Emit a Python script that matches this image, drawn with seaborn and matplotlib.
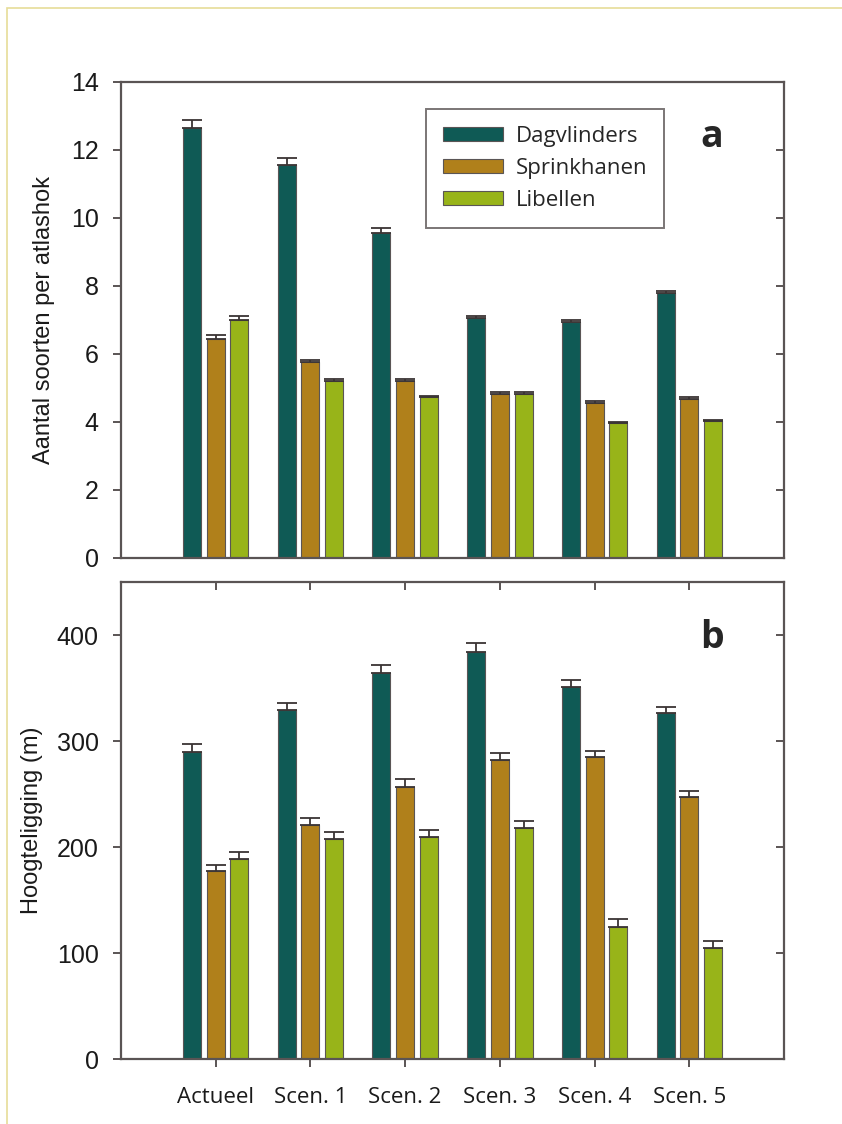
import numpy as np
import pandas as pd
import seaborn as sns
import matplotlib.pyplot as plt
from matplotlib.patches import Rectangle

# data
scenarios = ['Actueel', 'Scen. 1', 'Scen. 2', 'Scen. 3', 'Scen. 4', 'Scen. 5']
groups = ['Dagvlinders', 'Sprinkhanen', 'Libellen']

soorten_dag = [12.65, 11.55, 9.55, 7.05, 6.95, 7.80]
soorten_spr = [6.45, 5.75, 5.20, 4.83, 4.57, 4.68]
soorten_lib = [7.00, 5.20, 4.72, 4.83, 3.98, 4.03]
soorten_err_dag = [0.22, 0.20, 0.16, 0.08, 0.05, 0.05]
soorten_err_spr = [0.10, 0.08, 0.07, 0.04, 0.04, 0.04]
soorten_err_lib = [0.12, 0.06, 0.04, 0.04, 0.03, 0.03]

hoogte_dag = [290, 329, 364, 384, 351, 326]
hoogte_spr = [177, 221, 257, 282, 285, 247]
hoogte_lib = [189, 208, 209, 218, 125, 105]
hoogte_err_dag = [7, 7, 8, 8, 7, 6]
hoogte_err_spr = [6, 6, 7, 7, 6, 6]
hoogte_err_lib = [6, 6, 7, 7, 7, 6]

colors = ['#0f5a55', '#b0801b', '#98b419']

sns.set_theme(style='white')
plt.rcParams['font.family'] = ['Liberation Sans', 'DejaVu Sans']
label_font = 'Open Sans'
edge = '#5a5555'
spine_col = '#5a5454'


def make_df(dag, spr, lib, e_dag, e_spr, e_lib):
    rows = []
    for vals, errs, g in zip([dag, spr, lib], [e_dag, e_spr, e_lib], groups):
        for s, v, e in zip(scenarios, vals, errs):
            rows.append({'scen': s, 'groep': g, 'waarde': v, 'err': e})
    return pd.DataFrame(rows)


def bar_panel(ax, df, ymax, yticks, ylabel, letter, lx, ly):
    sns.barplot(data=df, x='scen', y='waarde', hue='groep', hue_order=groups,
                order=scenarios, palette=colors, saturation=1, width=0.75, gap=0.24,
                errorbar=None, edgecolor=edge, linewidth=0.8, ax=ax,
                legend=(letter == 'a'))
    # upper error bars on each bar
    for patch, (_, row) in zip(ax.patches, df.iterrows()):
        xc = patch.get_x() + patch.get_width() / 2
        ax.errorbar(xc, row['waarde'], yerr=[[0], [row['err']]], fmt='none',
                    ecolor='#3a3434', elinewidth=1.3, capsize=7.5, capthick=1.3)
    ax.set_xlim(-1, 6)
    ax.set_ylim(0, ymax)
    ax.set_yticks(yticks)
    ax.set_yticklabels([str(t) for t in yticks], fontsize=18, color='#1a1a1a')
    ax.set_xlabel('')
    ax.set_ylabel(ylabel, fontsize=17, color='#1a1a1a')
    for sp in ax.spines.values():
        sp.set_visible(True)
        sp.set_color(spine_col)
        sp.set_linewidth(1.6)
    ax.tick_params(axis='y', which='both', left=True, right=True, direction='out',
                   length=6, width=1.4, color=spine_col, pad=10)
    ax.text(lx, ly, letter, transform=ax.transAxes, fontsize=27,
            fontweight='bold', family=label_font, ha='center', va='center')


fig = plt.figure(figsize=(8.42, 11.24), dpi=100)
ax_a = fig.add_axes([0.1437, 0.5036, 0.7874, 0.4235])
ax_b = fig.add_axes([0.1437, 0.0578, 0.7874, 0.4244])

df_a = make_df(soorten_dag, soorten_spr, soorten_lib,
               soorten_err_dag, soorten_err_spr, soorten_err_lib)
df_b = make_df(hoogte_dag, hoogte_spr, hoogte_lib,
               hoogte_err_dag, hoogte_err_spr, hoogte_err_lib)

bar_panel(ax_a, df_a, 14, [0, 2, 4, 6, 8, 10, 12, 14],
          'Aantal soorten per atlashok', 'a', 0.891, 0.885)
bar_panel(ax_b, df_b, 450, [0, 100, 200, 300, 400],
          'Hoogteligging (m)', 'b', 0.892, 0.882)

# right ticks point inward
for ax in (ax_a, ax_b):
    for t in ax.yaxis.get_major_ticks():
        t.tick2line.set_marker(0)
        t.tick2line.set_markersize(6)

ax_a.tick_params(axis='x', bottom=True, direction='in', length=6, labelbottom=False,
                 color=spine_col)
ax_b.tick_params(axis='x', bottom=True, top=True, direction='out', length=6, width=1.4,
                 color=spine_col, pad=14)
for t in ax_b.xaxis.get_major_ticks():
    t.tick2line.set_marker(3)
ax_b.set_xticks(range(len(scenarios)))
ax_b.set_xticklabels(scenarios, fontsize=16, family=label_font, color='#1a1a1a')
ax_a.yaxis.set_label_coords(-0.1, 0.5)
ax_b.yaxis.set_label_coords(-0.118, 0.5)

leg = ax_a.legend(loc='upper left', bbox_to_anchor=(0.506, 0.903),
                  bbox_transform=fig.transFigure, frameon=True, fancybox=False,
                  prop={'family': label_font, 'size': 16},
                  handlelength=2.7, handleheight=0.6, labelspacing=0.5,
                  borderpad=0.75, handletextpad=0.6, borderaxespad=0)
leg.get_frame().set_edgecolor(spine_col)
leg.get_frame().set_linewidth(1.4)

# light frame around the figure
fig.patches.append(Rectangle((7 / 842, -0.1), 1.2, 1.1 - 8 / 1124,
                             transform=fig.transFigure, fill=False,
                             edgecolor='#e6dd98', linewidth=1.2))

fig.savefig('out.png', dpi=100)
